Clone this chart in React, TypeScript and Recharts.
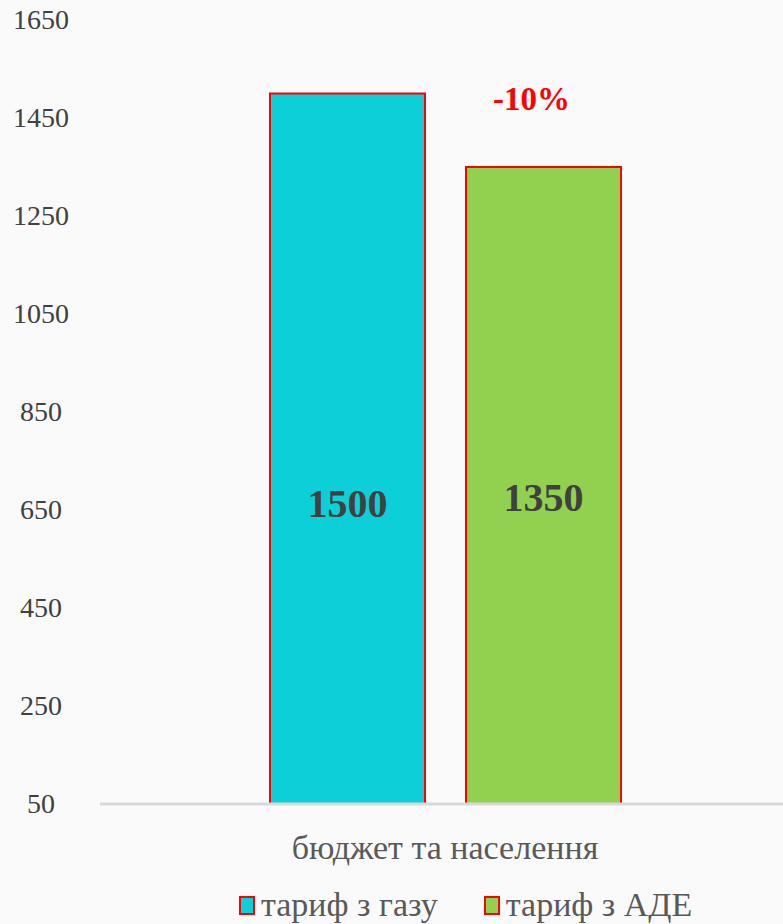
import { BarChart, Bar, XAxis, YAxis, Legend, LabelList } from 'recharts';

const categories = ['бюджет та населення'];
const gasTariff = [1500];
const adeTariff = [1350];
const changeLabels = ['-10%'];
const yTicks = [50, 250, 450, 650, 850, 1050, 1250, 1450, 1650];

const data = categories.map((name, i) => ({
  name,
  gas: gasTariff[i],
  ade: adeTariff[i],
  change: changeLabels[i],
}));

const FONT = '"Liberation Serif", serif';

const YTick = (props: any) => {
  const { y, payload } = props;
  return (
    <text x={41} y={y} dy={9} textAnchor="middle" fontFamily={FONT} fontSize={28} fill="#404040">
      {payload.value}
    </text>
  );
};

const XTick = (props: any) => {
  const { x, y, payload } = props;
  return (
    <text x={x} y={y} dy={47} textAnchor="middle" fontFamily={FONT} fontSize={34} fill="#595959">
      {payload.value}
    </text>
  );
};

const valueLabel = (dy: number) => (props: any) => {
  const { x, y, width, height, value } = props;
  return (
    <text
      x={x + width / 2}
      y={y + height / 2 + dy}
      textAnchor="middle"
      fontFamily={FONT}
      fontWeight="bold"
      fontSize={40}
      fill="#404040"
    >
      {value}
    </text>
  );
};

const changeLabel = (props: any) => {
  const { x, y, width, value } = props;
  return (
    <text
      x={x + width / 2 - 12}
      y={y - 57}
      textAnchor="middle"
      fontFamily={FONT}
      fontWeight="bold"
      fontSize={33}
      fill="#ff0000"
    >
      {value}
    </text>
  );
};

const LegendContent = () => {
  const items = [
    { label: 'тариф з газу', color: '#0ccfd8' },
    { label: 'тариф з АДЕ', color: '#92d050' },
  ];
  return (
    <div style={{ display: 'flex', justifyContent: 'flex-start', gap: 46, marginLeft: 239, marginTop: 6 }}>
      {items.map((it) => (
        <div key={it.label} style={{ display: 'flex', alignItems: 'center', gap: 6 }}>
          <div style={{ width: 12, height: 15, background: it.color, border: '2px solid #ff0000' }} />
          <span style={{ fontFamily: FONT, fontSize: 34, color: '#595959', whiteSpace: 'nowrap' }}>{it.label}</span>
        </div>
      ))}
    </div>
  );
};

export default function App() {
  return (
    <div style={{ position: 'absolute', left: 0, top: 0, width: 783, height: 924, background: '#fafafa' }}>
      <BarChart
        width={783}
        height={924}
        data={data}
        margin={{ top: 20, right: 0, left: 0, bottom: 0 }}
        barSize={155}
        barGap={41}
      >
        <XAxis
          dataKey="name"
          height={76}
          padding={{ left: 7, right: 0 }}
          tick={<XTick />}
          tickLine={false}
          axisLine={{ stroke: '#d9d9d9', strokeWidth: 3 }}
        />
        <YAxis
          width={100}
          domain={[50, 1650]}
          ticks={yTicks}
          tick={<YTick />}
          tickLine={false}
          axisLine={false}
          allowDataOverflow
        />
        <Legend
          verticalAlign="bottom"
          height={44}
          wrapperStyle={{ left: 0, width: 783 }}
          content={<LegendContent />}
        />
        <Bar dataKey="gas" name="тариф з газу" fill="#0ccfd8" stroke="#ff0000" strokeWidth={2} isAnimationActive={false}>
          <LabelList dataKey="gas" content={valueLabel(68)} />
        </Bar>
        <Bar dataKey="ade" name="тариф з АДЕ" fill="#92d050" stroke="#ff0000" strokeWidth={2} isAnimationActive={false}>
          <LabelList dataKey="ade" content={valueLabel(25)} />
          <LabelList dataKey="change" content={changeLabel} />
        </Bar>
      </BarChart>
    </div>
  );
}
